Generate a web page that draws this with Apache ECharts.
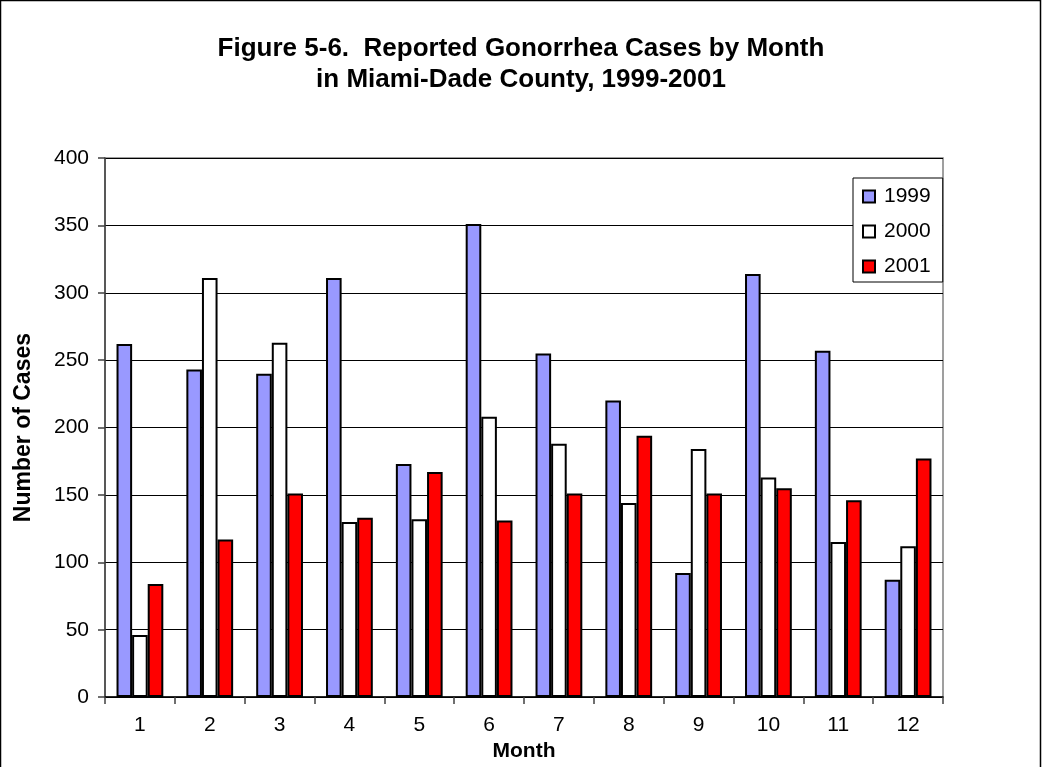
<!DOCTYPE html>
<html><head><meta charset="utf-8">
<script src="https://cdn.jsdelivr.net/npm/echarts@6/dist/echarts.min.js"></script>
<style>html,body{margin:0;padding:0;background:#fff}#c{width:1042px;height:767px}</style>
</head><body><div id="c"></div>
<script>
const months = ['1','2','3','4','5','6','7','8','9','10','11','12'];
const seriesNames = ['1999','2000','2001'];
const cases1999 = [262,243,240,311,173,351,255,220,92,314,257,87];
const cases2000 = [46,311,263,130,132,208,188,144,184,163,115,112];
const cases2001 = [84,117,151,133,167,131,151,194,151,155,146,177];
const yTicks = [0,50,100,150,200,250,300,350,400];

const colors = ['#9999FF','#FFFFFF','#FF0000'];
const data = [cases1999, cases2000, cases2001];
const font = "'Liberation Sans', Arial, sans-serif";

const chart = echarts.init(document.getElementById('c'), null, {renderer:'canvas'});
chart.setOption({
  animation:false,
  backgroundColor:'#fff',
  textStyle:{fontFamily:font,color:'#000'},
  title:{
    text:'Figure 5-6.  Reported Gonorrhea Cases by Month\nin Miami-Dade County, 1999-2001',
    left:'center', top:28,
    textStyle:{fontFamily:font,fontSize:26,fontWeight:'bold',color:'#000',lineHeight:31}
  },
  graphic:[{type:'rect',shape:{x:0.5,y:0.5,width:1040,height:770},style:{fill:'none',stroke:'#000',lineWidth:1.5},silent:true}],
  legend:{
    orient:'vertical', left:853, top:178,
    data:seriesNames,
    icon:'rect',
    itemWidth:12, itemHeight:12, itemGap:14,
    padding:[8,12,5,9],
    backgroundColor:'#fff', borderColor:'#000', borderWidth:1,
    itemStyle:{borderColor:'#000',borderWidth:2},
    textStyle:{fontFamily:font,fontSize:21,color:'#000',padding:[0,0,0,4]}
  },
  grid:{left:105,right:99,top:158,bottom:69,show:true,borderColor:'#808080',borderWidth:1.5,backgroundColor:'transparent'},
  xAxis:{
    type:'category', data:months,
    name:'Month', nameLocation:'middle', nameGap:43,
    nameTextStyle:{fontFamily:font,fontSize:21,fontWeight:'bold',color:'#000'},
    axisLine:{lineStyle:{color:'#000',width:1.5}},
    axisTick:{show:true,alignWithLabel:false,length:7,lineStyle:{color:'#404040',width:1.5}},
    axisLabel:{fontFamily:font,fontSize:21,color:'#000',margin:18}
  },
  yAxis:{
    type:'value', min:0, max:400, interval:50,
    name:'Number of Cases', nameLocation:'middle', nameGap:70, nameRotate:90,
    nameTextStyle:{fontFamily:font,fontSize:23,fontWeight:'bold',color:'#000'},
    axisLine:{show:true,lineStyle:{color:'#404040',width:1.5}},
    axisTick:{show:true,length:7,lineStyle:{color:'#404040',width:1.5}},
    axisLabel:{fontFamily:font,fontSize:21,color:'#000',margin:16,
      formatter:v=>yTicks.includes(v)?String(v):''},
    splitLine:{show:true,lineStyle:{color:'#000',width:1}}
  },
  series:seriesNames.map((n,i)=>({
    name:n, type:'bar', data:data[i],
    barGap:'0%', barCategoryGap:'33%',
    itemStyle:{color:colors[i],borderColor:'#000',borderWidth:2}
  }))
});
</script></body></html>
